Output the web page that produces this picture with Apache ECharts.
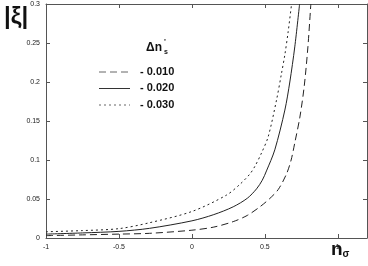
<!DOCTYPE html>
<html><head><meta charset="utf-8">
<script src="https://cdn.jsdelivr.net/npm/echarts@6/dist/echarts.min.js"></script>
<style>html,body{margin:0;padding:0;background:#fff}#c{width:368px;height:266px}</style>
</head><body><div id="c"></div>
<script>
const seriesNames = ['- 0.010', '- 0.020', '- 0.030'];
const dashedX = [-1, -0.75, -0.5, -0.29, 0, 0.15, 0.283, 0.38, 0.466, 0.53, 0.591, 0.648, 0.68, 0.705, 0.74, 0.77, 0.795, 0.815];
const dashedY = [0.003, 0.004, 0.005, 0.006, 0.010, 0.014, 0.021, 0.029, 0.040, 0.050, 0.062, 0.082, 0.100, 0.122, 0.155, 0.195, 0.245, 0.30];
const solidX = [-1, -0.75, -0.5, -0.29, 0, 0.15, 0.283, 0.38, 0.443, 0.482, 0.511, 0.568, 0.637, 0.671, 0.705, 0.738];
const solidY = [0.005, 0.0065, 0.0085, 0.0124, 0.022, 0.030, 0.040, 0.051, 0.063, 0.074, 0.086, 0.113, 0.164, 0.200, 0.245, 0.30];
const dottedX = [-1, -0.75, -0.5, -0.29, 0, 0.237, 0.33, 0.397, 0.432, 0.477, 0.523, 0.58, 0.614, 0.637, 0.66, 0.683];
const dottedY = [0.008, 0.0095, 0.012, 0.0196, 0.034, 0.055, 0.069, 0.082, 0.092, 0.109, 0.13, 0.177, 0.211, 0.235, 0.265, 0.30];
const xTicks = [-1, -0.5, 0, 0.5, 1];
const yTicks = [0, 0.05, 0.1, 0.15, 0.2, 0.25, 0.3];

const zip = (xs, ys) => xs.map((x, i) => [x, ys[i]]);
const FONT = 'Liberation Sans';
const chart = echarts.init(document.getElementById('c'), null, {renderer: 'canvas'});
const axisLineStyle = {color: '#555', width: 1};
function mkLine(name, data, type) {
  return {name, type: 'line', data, showSymbol: false, smooth: 0.3,
    lineStyle: {color: '#222', width: 1, type: type}, xAxisIndex: 0, yAxisIndex: 0, clip: true};
}
chart.setOption({
  animation: false,
  backgroundColor: '#fff',
  grid: {left: 46, right: 1, top: 4, bottom: 28, containLabel: false},
  xAxis: [{
    type: 'value', min: -1, max: 1.2, interval: 0.5, position: 'bottom',
    axisLine: {show: true, onZero: false, lineStyle: axisLineStyle},
    axisTick: {show: true, inside: true, length: 4, lineStyle: axisLineStyle},
    splitLine: {show: false},
    axisLabel: {fontFamily: FONT, fontSize: 7, color: '#222', margin: 6, showMaxLabel: false,
      formatter: v => xTicks.includes(v) ? String(v) : ''}
  }, {
    type: 'value', min: -1, max: 1.2, interval: 0.5, position: 'top',
    axisLine: {show: true, onZero: false, lineStyle: axisLineStyle},
    axisTick: {show: true, inside: true, length: 4, lineStyle: axisLineStyle},
    splitLine: {show: false}, axisLabel: {show: false}
  }],
  yAxis: [{
    type: 'value', min: 0, max: 0.3, interval: 0.05, position: 'left',
    axisLine: {show: true, onZero: false, lineStyle: axisLineStyle},
    axisTick: {show: true, inside: true, length: 4, lineStyle: axisLineStyle},
    splitLine: {show: false},
    axisLabel: {fontFamily: FONT, fontSize: 7, color: '#222', margin: 6,
      formatter: v => { const t = yTicks.find(k => Math.abs(k - v) < 1e-9); return t === undefined ? '' : String(t); }}
  }, {
    type: 'value', min: 0, max: 0.3, interval: 0.05, position: 'right',
    axisLine: {show: true, onZero: false, lineStyle: axisLineStyle},
    axisTick: {show: true, inside: true, length: 4, lineStyle: axisLineStyle},
    splitLine: {show: false}, axisLabel: {show: false}
  }],
  series: [
    mkLine(seriesNames[0], zip(dashedX, dashedY), [7, 4]),
    mkLine(seriesNames[1], zip(solidX, solidY), 'solid'),
    mkLine(seriesNames[2], zip(dottedX, dottedY), [2, 3])
  ],
  graphic: [
    {type: 'text', left: 4, top: 5, style: {text: '|ξ|', font: 'bold 24px ' + FONT, fill: '#111'}},
    {type: 'text', left: 331, top: 240, style: {
      rich: {n: {font: 'bold 19px ' + FONT, fill: '#111'}, s: {font: 'bold 10px ' + FONT, fill: '#111', padding: [10, 0, 0, 0]}},
      text: '{n|n}{s|σ}'}},
    {type: 'text', left: 146, top: 42, style: {text: 'Δn', font: 'bold 12px ' + FONT, fill: '#111'}},
    {type: 'text', left: 164, top: 38, style: {text: "'", font: 'bold 8px ' + FONT, fill: '#111'}},
    {type: 'text', left: 164, top: 49, style: {text: 's', font: 'bold 7px ' + FONT, fill: '#111'}},
    {type: 'line', shape: {x1: 99, y1: 72, x2: 130, y2: 72}, style: {stroke: '#666', lineWidth: 1, lineDash: [7, 4]}},
    {type: 'line', shape: {x1: 99, y1: 88.5, x2: 130, y2: 88.5}, style: {stroke: '#333', lineWidth: 1}},
    {type: 'line', shape: {x1: 99, y1: 105, x2: 130, y2: 105}, style: {stroke: '#666', lineWidth: 1, lineDash: [2, 3]}},
    {type: 'text', left: 140, top: 66, style: {text: seriesNames[0], font: 'bold 11px ' + FONT, fill: '#111'}},
    {type: 'text', left: 140, top: 82, style: {text: seriesNames[1], font: 'bold 11px ' + FONT, fill: '#111'}},
    {type: 'text', left: 140, top: 99, style: {text: seriesNames[2], font: 'bold 11px ' + FONT, fill: '#111'}}
  ]
});
</script></body></html>
